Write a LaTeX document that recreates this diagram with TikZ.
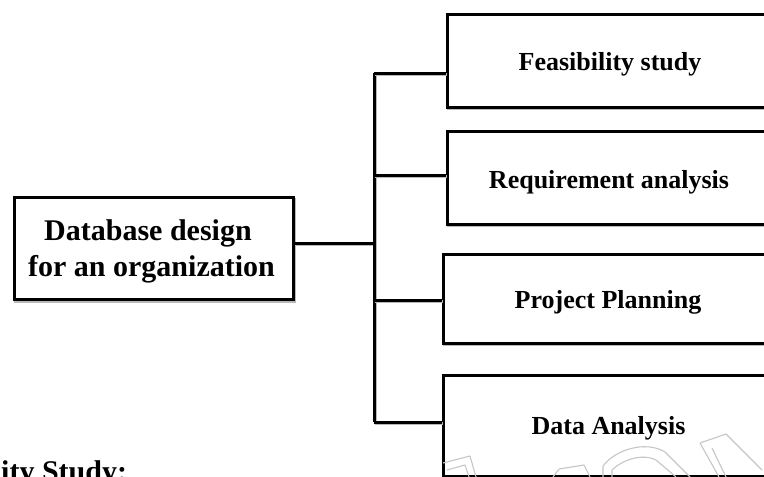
\documentclass[tikz,border=0pt]{standalone}
\usepackage{fontspec}
\setmainfont{Liberation Serif}
\begin{document}
\begin{tikzpicture}[x=1pt,y=-1pt,
  line join=miter,
  shadowline/.style={preaction={draw=gray!55,line width=3pt,transform canvas={xshift=1pt,yshift=-1.6pt}}},
  wire/.style={line width=3pt,shadowline},
  boxnode/.style={draw,line width=3pt,shadowline,fill=white,inner sep=0pt,anchor=north west},
  boxtext/.style={font=\bfseries\fontsize{26}{30}\selectfont,anchor=base},
  maintext/.style={font=\bfseries\fontsize{30}{36}\selectfont,align=center,anchor=base},
  faintline/.style={draw=gray!45,line width=1.1pt,line join=round}
]
\useasboundingbox (0,0) rectangle (764,477);
\clip (0,0) rectangle (764,477);

% root box
\node[boxnode,minimum width=279pt,minimum height=102pt] (root) at (13,196) {};
\node[maintext] (roottxt) at (148,240.5) {Database design};
\node[maintext] (roottxt2) at (151.5,276.5) {for an organization};

% the four stages, running off the right edge
\node[boxnode,minimum width=330pt,minimum height=93pt] (feas) at (446,12.5) {};
\node[boxnode,minimum width=330pt,minimum height=92.5pt] (req) at (446,130) {};
\node[boxnode,minimum width=335pt,minimum height=89pt] (plan) at (441.5,252.7) {};
\node[boxnode,minimum width=335pt,minimum height=101pt] (data) at (441.5,374) {};

\node[boxtext] (feastxt) at (610,70) {Feasibility study};
\node[boxtext] (reqtxt) at (609,188) {Requirement analysis};
\node[boxtext] (plantxt) at (608,308.3) {Project Planning};
\node[boxtext] (datatxt) at (608.5,434) {Data Analysis};

% trunk and branches
\coordinate (tM) at (374,243);
\coordinate (tF) at (374,73);
\coordinate (tR) at (374,175);
\coordinate (tP) at (374,300);
\coordinate (tD) at (374,422);

\draw[wire] (root.east |- tM) -- (tM);
\draw[wire] (tF) -- (tD);
\draw[wire] (tF) -- (tF -| feas.west);
\draw[wire] (tR) -- (tR -| req.west);
\draw[wire] (tP) -- (tP -| plan.west);
\draw[wire] (tD) -- (tD -| data.west);

% faint outlined lettering along the bottom edge
\draw[faintline] (443,463) -- (470,456) -- (476,477);
\draw[faintline] (447,470) -- (465,465) -- (469,477);
\draw[faintline] (553,477) -- (559,469) -- (584,465) -- (590,477);
\draw[faintline] (603,477) -- (603,466) .. controls (615,450) and (645,440) .. (665,452) -- (690,477);
\draw[faintline] (612,477) -- (612,470) .. controls (622,460) and (642,453) .. (656,460) -- (676,477);
\draw[faintline] (700,443) -- (726,434) -- (762,470);
\draw[faintline] (700,443) -- (719,477);
\draw[faintline] (712,448) -- (726,477);

% section heading cut by the lower edge
\node[font=\bfseries\fontsize{30}{36}\selectfont,anchor=base west,inner sep=0pt] (heading) at (1,481) {ity Study:};
\end{tikzpicture}
\end{document}
